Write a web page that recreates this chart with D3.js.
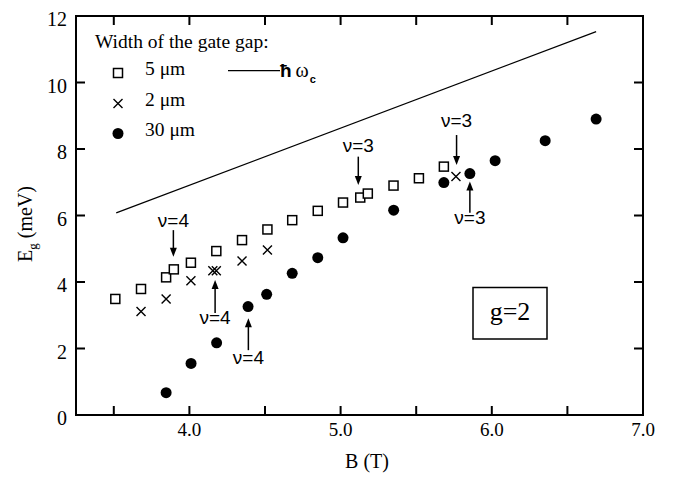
<!DOCTYPE html>
<html><head><meta charset="utf-8">
<script src="https://cdn.jsdelivr.net/npm/d3@7/dist/d3.min.js"></script>
<style>body{margin:0;background:#fff}svg{display:block}</style>
</head><body>
<svg id="chart" width="674" height="478" xmlns="http://www.w3.org/2000/svg"></svg>
<script>
// ---- data (B in tesla, E_g in meV) ----
const sq5B  = [3.51, 3.68, 3.846, 3.897, 4.01, 4.178, 4.348, 4.516, 4.68, 4.849, 5.016, 5.13, 5.18, 5.35, 5.518, 5.683];
const sq5E  = [3.49, 3.79, 4.14, 4.38, 4.58, 4.93, 5.26, 5.58, 5.86, 6.14, 6.39, 6.54, 6.66, 6.90, 7.12, 7.47];
const x2B   = [3.68, 3.846, 4.01, 4.155, 4.178, 4.348, 4.516, 5.763];
const x2E   = [3.11, 3.49, 4.04, 4.34, 4.34, 4.63, 4.96, 7.17];
const c30B  = [3.846, 4.011, 4.18, 4.388, 4.511, 4.68, 4.849, 5.016, 5.351, 5.683, 5.855, 6.022, 6.353, 6.69];
const c30E  = [0.67, 1.55, 2.17, 3.26, 3.63, 4.26, 4.73, 5.33, 6.16, 6.99, 7.26, 7.65, 8.25, 8.90];
const hwB   = [3.516, 6.69];
const hwE   = [6.08, 11.53];
const xTicks = [3.5, 4.0, 4.5, 5.0, 5.5, 6.0, 6.5];
const xLabels = [4.0, 5.0, 6.0, 7.0];
const yTicks = [0, 2, 4, 6, 8, 10, 12];
// annotations: label, B, label E, arrow tail E, arrow tip E
const annLabel = ["ν=4", "ν=4", "ν=4", "ν=3", "ν=3", "ν=3"];
const annB     = [3.894, 4.17, 4.39, 5.117, 5.767, 5.855];
const annTextE = [5.86, 2.95, 1.74, 8.12, 8.87, 5.95];
const annTailE = [5.56, 3.07, 1.95, 7.77, 8.42, 6.08];
const annTipE  = [4.76, 4.06, 2.91, 6.92, 7.52, 7.02];

const svg = d3.select("#chart");
const L = 76, R = 643, T = 16, Bt = 415;
const x = d3.scaleLinear().domain([3.25, 7.0]).range([L, R]);
const y = d3.scaleLinear().domain([0, 12]).range([Bt, T]);
const fSerif = "Liberation Serif";
const fSans = "Liberation Sans";

// frame + inward ticks as one path, positioned through the scales
let d = `M${L},${T}H${R}V${Bt}H${L}Z`;
xTicks.forEach(v => { d += `M${x(v)},${Bt}v-9M${x(v)},${T}v9`; });
yTicks.slice(1,-1).forEach(v => { d += `M${L},${y(v)}h9M${R},${y(v)}h-9`; });
svg.append("path").attr("d", d).attr("fill","none").attr("stroke","#000").attr("stroke-width",2);

// tick labels
svg.append("g").selectAll("text").data(xLabels).join("text")
  .attr("x", v => x(v)).attr("y", Bt + 21)
  .attr("text-anchor","middle").attr("font-family",fSerif).attr("font-size",19)
  .text(v => v.toFixed(1));
svg.append("g").selectAll("text").data(yTicks).join("text")
  .attr("x", 67).attr("y", v => y(v) + 10)
  .attr("text-anchor","end").attr("font-family",fSerif).attr("font-size",20)
  .text(v => v);

// axis titles
svg.append("text").attr("x", 367).attr("y", 468).attr("text-anchor","middle")
  .attr("font-family",fSerif).attr("font-size",20).text("B (T)");
const yt = svg.append("text").attr("transform","translate(32,224) rotate(-90)")
  .attr("text-anchor","middle").attr("font-family",fSerif).attr("font-size",20);
yt.append("tspan").text("E");
yt.append("tspan").attr("font-size",13).attr("dy",5).text("g");
yt.append("tspan").attr("dy",-5).text(" (meV)");

// hbar omega_c line
svg.append("path")
  .attr("d", d3.line().x((v,i)=>x(hwB[i])).y((v,i)=>y(hwE[i]))(hwB))
  .attr("fill","none").attr("stroke","#000").attr("stroke-width",1.2);

// markers
const plot = svg.append("g");
plot.selectAll("rect.sq").data(sq5B).join("rect").attr("class","sq")
  .attr("x",(v,i)=>x(v)-4.5).attr("y",(v,i)=>y(sq5E[i])-4.5)
  .attr("width",9).attr("height",9).attr("fill","#fff").attr("stroke","#000").attr("stroke-width",1.5);
const cross = (g, cx, cy, s) => g.append("path")
  .attr("d",`M${cx-s},${cy-s}L${cx+s},${cy+s}M${cx-s},${cy+s}L${cx+s},${cy-s}`)
  .attr("stroke","#000").attr("stroke-width",1.4).attr("fill","none");
x2B.forEach((v,i)=>cross(plot, x(v), y(x2E[i]), 4.5));
plot.selectAll("circle").data(c30B).join("circle")
  .attr("cx",v=>x(v)).attr("cy",(v,i)=>y(c30E[i])).attr("r",5.5).attr("fill","#000");

// annotations: shaft + filled arrowhead
annLabel.forEach((lab,i)=>{
  const ax = x(annB[i]), y0 = y(annTailE[i]), y1 = y(annTipE[i]);
  const dir = y1 > y0 ? 1 : -1;
  svg.append("line").attr("x1",ax).attr("x2",ax).attr("y1",y0).attr("y2",y1 - dir*6)
    .attr("stroke","#000").attr("stroke-width",1.5);
  svg.append("path").attr("d",`M${ax},${y1}L${ax-3.5},${y1-dir*9}L${ax+3.5},${y1-dir*9}Z`).attr("fill","#000");
  svg.append("text").attr("x",ax).attr("y",y(annTextE[i])+7)
    .attr("text-anchor","middle").attr("font-family",fSans).attr("font-size",19)
    .text(lab);
});

// g=2 box
svg.append("rect").attr("x",473).attr("y",287.5).attr("width",74).attr("height",51.5)
  .attr("fill","#fff").attr("stroke","#000").attr("stroke-width",1.5);
svg.append("text").attr("x",510).attr("y",320).attr("text-anchor","middle")
  .attr("font-family",fSerif).attr("font-size",26).text("g=2");

// legend
svg.append("text").attr("x",95).attr("y",48).attr("font-family",fSerif).attr("font-size",19.5)
  .text("Width of the gate gap:");
const lg = svg.append("g");
lg.append("rect").attr("x",118-4.5).attr("y",73-4.5).attr("width",9).attr("height",9)
  .attr("fill","#fff").attr("stroke","#000").attr("stroke-width",1.5);
cross(lg, 118, 103.5, 4.5);
lg.append("circle").attr("cx",118).attr("cy",133.5).attr("r",5.5).attr("fill","#000");
[["5 μm",75],["2 μm",106],["30 μm",136]].forEach(([t,yy])=>
  lg.append("text").attr("x",145).attr("y",yy).attr("font-family",fSerif).attr("font-size",19.5).text(t));
lg.append("line").attr("x1",228).attr("x2",280).attr("y1",70.7).attr("y2",70.7)
  .attr("stroke","#000").attr("stroke-width",1.2);
const hw = lg.append("text").attr("x",280).attr("y",77);
hw.append("tspan").attr("font-family",fSans).attr("font-size",19).attr("font-weight","bold").text("ħ");
hw.append("tspan").attr("font-family",fSerif).attr("font-size",20).attr("dx",4).text("ω");
hw.append("tspan").attr("font-family",fSans).attr("font-size",11).attr("font-weight","bold").attr("dx",1).attr("dy",6).text("c");
</script>
</body></html>
